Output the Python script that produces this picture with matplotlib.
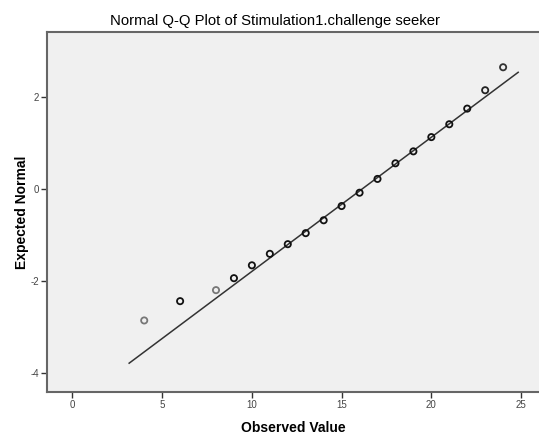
import matplotlib
matplotlib.use("Agg")
import matplotlib.pyplot as plt

observed = [4, 6, 8, 9, 10, 11, 12, 13, 14, 15, 16, 17, 18, 19, 20, 21, 22, 23, 24]
expected = [-2.86, -2.44, -2.20, -1.94, -1.66, -1.41, -1.20, -0.96, -0.68, -0.37,
            -0.08, 0.22, 0.56, 0.82, 1.13, 1.41, 1.75, 2.15, 2.65]
# lighter circles = single cases, darker = overlapping cases
point_colors = ["#777777", "#111111", "#777777", "#111111", "#111111", "#111111",
                "#111111", "#111111", "#111111", "#111111", "#111111", "#111111",
                "#111111", "#111111", "#111111", "#111111", "#111111", "#222222", "#333333"]

# reference line: mean and sd of the normal fit, drawn over this x range
line_mean = 16.14
line_sd = 3.425
line_x = [3.16, 24.84]

x_ticks = [0, 5, 10, 15, 20, 25]
y_ticks = [-4, -2, 0, 2]

plt.rcParams['font.family'] = ['Liberation Sans', 'DejaVu Sans']
plt.rcParams['axes.unicode_minus'] = False

fig = plt.figure(figsize=(5.39, 4.34), dpi=100)
ax = fig.add_axes([0.0878, 0.0975, 0.9122, 0.828])
ax.set_facecolor("#f0f0f0")

line_y = [(x - line_mean) / line_sd for x in line_x]
ax.plot(line_x, line_y, color="#333333", lw=1.1, zorder=2)

ax.scatter(observed, expected, s=20, facecolors="none", edgecolors=point_colors,
           linewidths=1.3, zorder=3)

ax.set_xlim(-1.40, 26.0)
ax.set_ylim(-4.41, 3.41)
ax.set_xticks(x_ticks)
ax.set_yticks(y_ticks)
ax.tick_params(direction="out", length=4, width=1, color="#333333",
               labelsize=7, labelcolor="#444444", pad=2)

for side in ["left", "bottom", "top"]:
    ax.spines[side].set_color("#666666")
    ax.spines[side].set_linewidth(1.5)
ax.spines["right"].set_visible(False)

# the original plot area runs past the cropped right edge, so the title sits left of centre
ax.set_title("Normal Q-Q Plot of Stimulation1.challenge seeker", fontsize=10.7,
             color="#000000", pad=5, x=0.463)
ax.set_xlabel("Observed Value", fontsize=10, fontweight="bold", labelpad=8)
ax.set_ylabel("Expected Normal", fontsize=10, fontweight="bold", labelpad=1)

plt.savefig("out.png", dpi=100)
